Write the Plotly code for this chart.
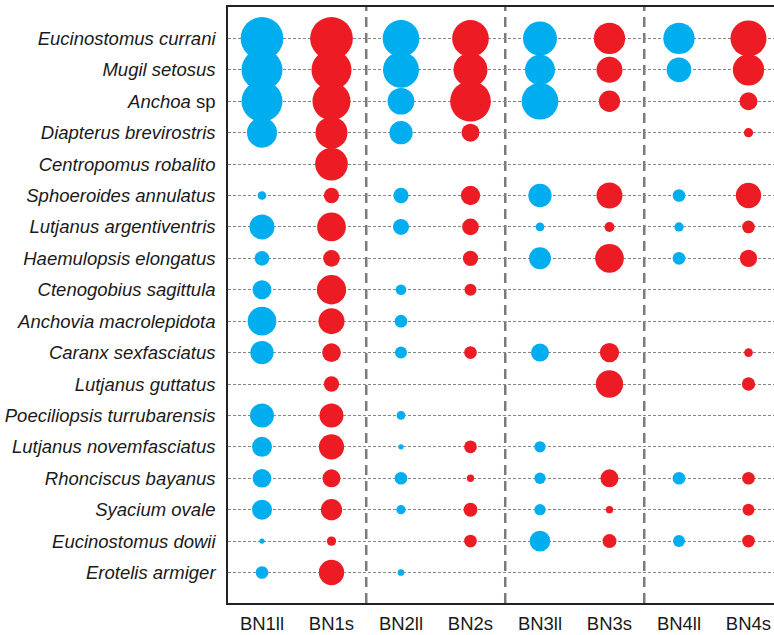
import plotly.graph_objects as go

species = [
    "Eucinostomus currani", "Mugil setosus", "Anchoa sp", "Diapterus brevirostris",
    "Centropomus robalito", "Sphoeroides annulatus", "Lutjanus argentiventris",
    "Haemulopsis elongatus", "Ctenogobius sagittula", "Anchovia macrolepidota",
    "Caranx sexfasciatus", "Lutjanus guttatus", "Poeciliopsis turrubarensis",
    "Lutjanus novemfasciatus", "Rhonciscus bayanus", "Syacium ovale",
    "Eucinostomus dowii", "Erotelis armiger",
]
species_labels = [
    "<i>Eucinostomus currani</i>", "<i>Mugil setosus</i>", "<i>Anchoa</i> sp",
    "<i>Diapterus brevirostris</i>", "<i>Centropomus robalito</i>",
    "<i>Sphoeroides annulatus</i>", "<i>Lutjanus argentiventris</i>",
    "<i>Haemulopsis elongatus</i>", "<i>Ctenogobius sagittula</i>",
    "<i>Anchovia macrolepidota</i>", "<i>Caranx sexfasciatus</i>",
    "<i>Lutjanus guttatus</i>", "<i>Poeciliopsis turrubarensis</i>",
    "<i>Lutjanus novemfasciatus</i>", "<i>Rhonciscus bayanus</i>",
    "<i>Syacium ovale</i>", "<i>Eucinostomus dowii</i>", "<i>Erotelis armiger</i>",
]
sites = ["BN1ll", "BN1s", "BN2ll", "BN2s", "BN3ll", "BN3s", "BN4ll", "BN4s"]

# relative abundance index per site (0 = absent), rows follow `species`
BN1ll = [42.7, 41, 41, 30, 0, 8.7, 25, 14.7, 19, 28.7, 23.3, 0, 24, 20, 18.7, 20, 5.3, 12.7]
BN1s  = [42.7, 40, 38, 32, 32.7, 15.3, 28.7, 16.7, 29.3, 26, 18.7, 15.3, 24, 25.3, 18, 21.3, 9.3, 25.3]
BN2ll = [36.7, 36, 26.7, 23.3, 0, 15.3, 16, 0, 10.7, 12.7, 12, 0, 8.7, 5.3, 12.7, 9.3, 0, 6.7]
BN2s  = [36.7, 34, 40.7, 18, 0, 19.3, 16.7, 15.3, 12, 0, 12.7, 0, 0, 12.7, 7.3, 14, 12.7, 0]
BN3ll = [34, 30, 36.7, 0, 0, 23.3, 8.7, 22, 0, 0, 18, 0, 0, 11.3, 11.3, 11.3, 20.7, 0]
BN3s  = [31.3, 26, 21.3, 0, 0, 26, 10, 28.7, 0, 0, 19.3, 27.3, 0, 0, 18, 7.3, 14, 0]
BN4ll = [31.3, 24.7, 0, 0, 0, 12.7, 9.3, 12.7, 0, 0, 0, 0, 0, 0, 12.7, 0, 12, 0]
BN4s  = [36, 31.3, 18, 9.3, 0, 25.3, 12.7, 17.3, 0, 0, 8.7, 13.3, 0, 0, 12.7, 12, 12.7, 0]

site_values = [BN1ll, BN1s, BN2ll, BN2s, BN3ll, BN3s, BN4ll, BN4s]

BLUE = "#00AEEF"
RED = "#ED1C24"

fig = go.Figure()
for si, (site, vals) in enumerate(zip(sites, site_values)):
    xs, ys, ss = [], [], []
    for ri, v in enumerate(vals):
        if v and v > 0:
            xs.append(si)
            ys.append(ri)
            ss.append(v)
    fig.add_trace(go.Scatter(
        x=xs, y=ys, mode="markers", name=site, showlegend=False,
        marker=dict(size=ss, sizemode="diameter", sizeref=1.0,
                    color=BLUE if site.endswith("ll") else RED,
                    line=dict(width=0), opacity=1),
        hovertext=[species[y] for y in ys],
    ))

# group separators
for xpos in [1.5, 3.5, 5.5]:
    fig.add_shape(type="line", xref="x", yref="paper", x0=xpos, x1=xpos, y0=0, y1=1,
                  line=dict(color="#7a7a7a", width=2.5, dash="10px,6px"), layer="below")

fig.update_layout(
    width=774, height=635,
    margin=dict(l=228, r=0, t=7, b=32),
    paper_bgcolor="white", plot_bgcolor="white",
    font=dict(family="Liberation Sans, Arial, sans-serif", size=18.5, color="#1a1a1a"),
)
fig.update_xaxes(
    range=[-0.489, 7.367], tickvals=list(range(len(sites))), ticktext=sites,
    showgrid=False, zeroline=False, showline=True, linecolor="#222", linewidth=1.5,
    mirror=True, ticks="", ticklabelstandoff=3,
)
fig.update_yaxes(
    range=[17.97, -1.0], tickvals=list(range(len(species))), ticktext=species_labels,
    showgrid=True, gridcolor="#888888", griddash="2.5px,2.5px", gridwidth=1.2,
    zeroline=False, showline=True, linecolor="#222", linewidth=1.5, mirror=False,
    ticks="", ticklabelstandoff=7,
)

fig.write_html("out.html", config={"displayModeBar": False},
               post_script="document.body.style.margin='0';document.body.style.overflow='hidden';")
